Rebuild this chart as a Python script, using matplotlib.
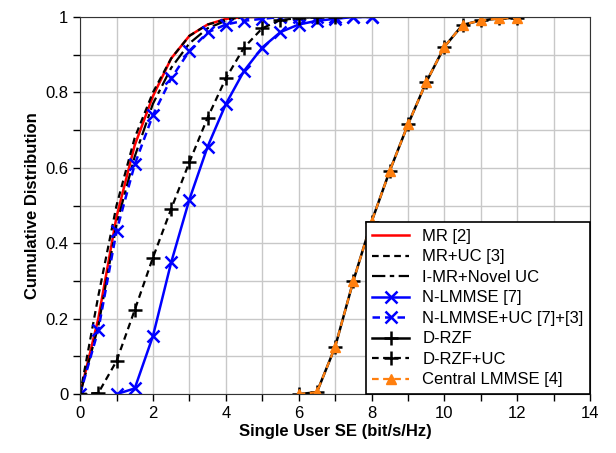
import numpy as np
import matplotlib
matplotlib.use('Agg')
import matplotlib.pyplot as plt
from matplotlib.ticker import MultipleLocator, FuncFormatter

plt.rcParams['font.family'] = ['Liberation Sans', 'DejaVu Sans']

## SE grid (bit/s/Hz)
se_low = [0, 0.5, 1, 1.5, 2, 2.5, 3, 3.5, 4, 4.5, 5]
mr = [0, 0.20, 0.47, 0.66, 0.79, 0.89, 0.95, 0.98, 0.995, 1, 1]
mr_uc = [0, 0.26, 0.50, 0.68, 0.80, 0.89, 0.95, 0.98, 0.993, 1, 1]
imr_novel = [0, 0.18, 0.45, 0.63, 0.77, 0.865, 0.93, 0.97, 0.99, 1, 1]

se_nl = [1, 1.5, 2, 2.5, 3, 3.5, 4, 4.5, 5, 5.5, 6, 6.5, 7, 7.5, 8]
nlmmse = [0, 0.015, 0.154, 0.349, 0.516, 0.656, 0.769, 0.857, 0.919, 0.96, 0.98, 0.99, 0.995, 1, 1]

se_nluc = [0, 0.5, 1, 1.5, 2, 2.5, 3, 3.5, 4, 4.5, 5, 5.5, 6, 6.5, 7, 7.5, 8]
nlmmse_uc = [0, 0.17, 0.432, 0.609, 0.74, 0.837, 0.91, 0.959, 0.98, 0.99, 0.995, 1, 1, 1, 1, 1, 1]

se_drzfuc = [0, 0.5, 1, 1.5, 2, 2.5, 3, 3.5, 4, 4.5, 5, 5.5, 6, 6.5, 7]
drzf_uc = [0, 0.003, 0.0875, 0.223, 0.362, 0.491, 0.615, 0.733, 0.837, 0.919, 0.97, 0.992, 0.997, 1, 1]

se_central = [6, 6.5, 7, 7.5, 8, 8.5, 9, 9.5, 10, 10.5, 11, 11.5, 12]
drzf = [0, 0.005, 0.125, 0.30, 0.457, 0.592, 0.715, 0.827, 0.921, 0.979, 0.991, 0.996, 0.998]
central = [0, 0.005, 0.125, 0.30, 0.457, 0.592, 0.715, 0.827, 0.921, 0.979, 0.991, 0.996, 0.998]

fig = plt.figure(figsize=(6.16, 4.53), dpi=100)
ax = fig.add_axes([0.130, 0.130, 0.828, 0.8325])

ax.plot(se_low, mr, color='red', lw=1.8, label='MR [2]')
ax.plot(se_low, mr_uc, color='black', lw=1.6, ls=(0, (3, 2)), label='MR+UC [3]')
ax.plot(se_low, imr_novel, color='black', lw=1.6, ls=(0, (6, 2, 2, 2)), label='I-MR+Novel UC')
ax.plot(se_nl, nlmmse, color='blue', lw=1.8, marker='x', ms=9, mew=1.8, label='N-LMMSE [7]')
ax.plot(se_nluc, nlmmse_uc, color='blue', lw=1.8, ls=(0, (3, 2)), marker='x', ms=9, mew=1.8,
        label='N-LMMSE+UC [7]+[3]')
ax.plot(se_central, drzf, color='black', lw=1.8, marker='+', ms=10, mew=1.8, label='D-RZF')
ax.plot(se_drzfuc, drzf_uc, color='black', lw=1.6, ls=(0, (3, 2)), marker='+', ms=10, mew=1.8,
        label='D-RZF+UC')
ax.plot(se_central, central, color='#ff7f0e', lw=1.6, ls=(0, (3, 2)), marker='^', ms=7,
        label='Central LMMSE [4]')

ax.set_xlim(0, 14)
ax.set_ylim(0, 1)
ax.xaxis.set_major_locator(MultipleLocator(2))
ax.xaxis.set_minor_locator(MultipleLocator(1))
ax.yaxis.set_major_locator(MultipleLocator(0.2))
ax.yaxis.set_minor_locator(MultipleLocator(0.1))
ax.yaxis.set_major_formatter(FuncFormatter(lambda v, p: f'{v:g}'))
ax.tick_params(which='both', direction='out', labelsize=12, width=1, length=5)
ax.grid(which='both', color='#c8c8c8', lw=1)
ax.set_axisbelow(True)
for s in ax.spines.values():
    s.set_color('#333333')

ax.set_xlabel('Single User SE (bit/s/Hz)', fontsize=12, fontweight='bold', labelpad=2)
ax.set_ylabel('Cumulative Distribution', fontsize=12, fontweight='bold', labelpad=4)

leg = ax.legend(loc='lower right', fontsize=12, fancybox=False, framealpha=1,
                edgecolor='black', borderaxespad=0, handlelength=2.2,
                labelspacing=0.33, borderpad=0.4)
leg.get_frame().set_linewidth(1.2)

fig.savefig('out.png', dpi=100)
